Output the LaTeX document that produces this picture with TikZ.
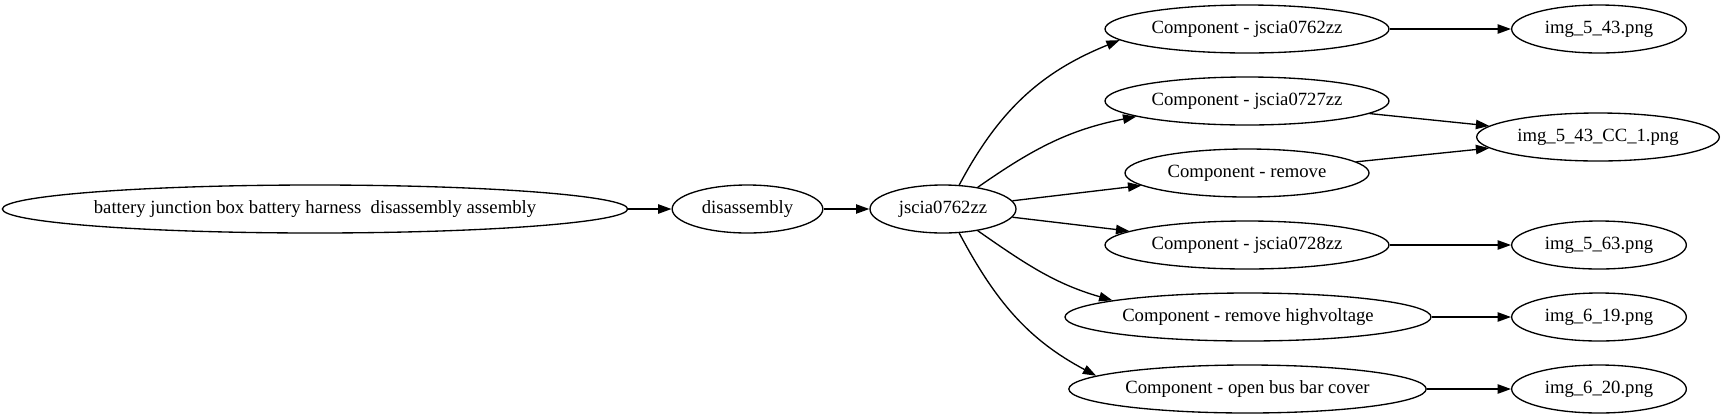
\documentclass[tikz,border=0pt]{standalone}
\usepackage{fontspec}
\setmainfont{Liberation Serif}
\usetikzlibrary{shapes.geometric,arrows.meta}

\begin{document}
\begin{tikzpicture}[x=0.75pt,y=0.75pt,
    every node/.style={font=\fontsize{14pt}{16pt}\selectfont},
    stage/.style={draw,ellipse,line width=1pt,inner sep=0pt,minimum height=36pt},
    link/.style={-{Triangle[length=10pt,width=7pt]},line width=1pt}
  ]
  \useasboundingbox (0,0) rectangle (1725,-419);

  % the task and its job
  \node[stage,minimum width=463.5pt] (task) at (315,-209) {battery junction box battery harness\ \ disassembly assembly};
  \node[stage,minimum width=113pt] (dis) at (747.5,-209) {disassembly};
  \node[stage,minimum width=109.5pt] (job) at (943,-209) {jscia0762zz};

  % components
  \node[stage,minimum width=213pt] (comp1) at (1247,-29) {Component - jscia0762zz};
  \node[stage,minimum width=213pt] (comp2) at (1247,-101) {Component - jscia0727zz};
  \node[stage,minimum width=183pt] (comp3) at (1247,-173) {Component - remove};
  \node[stage,minimum width=213pt] (comp4) at (1247,-245) {Component - jscia0728zz};
  \node[stage,minimum width=274.5pt] (comp5) at (1248,-317) {Component - remove highvoltage};
  \node[stage,minimum width=268pt] (comp6) at (1247.5,-389) {Component - open bus bar cover};

  % images
  \node[stage,minimum width=131pt] (img1) at (1599,-29) {img\_5\_43.png};
  \node[stage,minimum width=182pt] (imgcc) at (1598,-137) {img\_5\_43\_CC\_1.png};
  \node[stage,minimum width=131pt] (img3) at (1599,-245) {img\_5\_63.png};
  \node[stage,minimum width=131pt] (img4) at (1599,-317) {img\_6\_19.png};
  \node[stage,minimum width=131pt] (img5) at (1599,-389) {img\_6\_20.png};

  \draw[link] (task) -- (dis);
  \draw[link] (dis) -- (job);
  \draw[link] (job.56) to[out=62,in=202] (comp1.185);
  \draw[link] (job.32) to[out=35,in=191] (comp2.188);
  \draw[link] (job) -- (comp3);
  \draw[link] (job) -- (comp4);
  \draw[link] (job.-32) to[out=-35,in=164] (comp5.173);
  \draw[link] (job.-56) to[out=-62,in=152] (comp6.175);
  % components to images
  \draw[link] (comp1) -- (img1);
  \draw[link] (comp2) -- (imgcc);
  \draw[link] (comp3) -- (imgcc);
  \draw[link] (comp4) -- (img3);
  \draw[link] (comp5) -- (img4);
  \draw[link] (comp6) -- (img5);
\end{tikzpicture}
\end{document}
